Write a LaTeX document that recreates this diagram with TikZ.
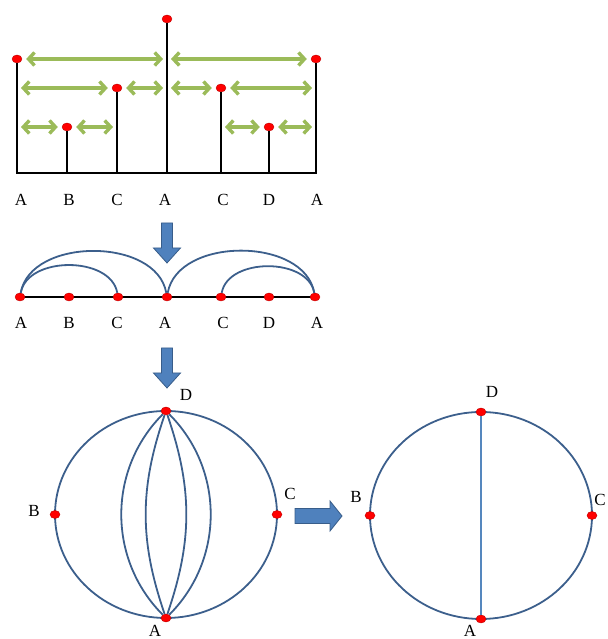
\documentclass[tikz,border=0pt]{standalone}
\usepackage{fontspec}
\setmainfont{Liberation Serif}
\usetikzlibrary{arrows.meta,shapes.geometric}
\definecolor{spanCol}{RGB}{155,187,89}
\definecolor{ringCol}{RGB}{60,95,140}
\definecolor{chordCol}{RGB}{85,135,190}
\definecolor{blkFill}{RGB}{79,129,189}
\definecolor{blkEdge}{RGB}{56,93,138}
\tikzset{
  dot/.style={ellipse, fill=red, draw=red!75!black, line width=0.4pt,
              minimum width=10pt, minimum height=8pt, inner sep=0pt},
  lbl/.style={font=\fontsize{17}{20}\selectfont, inner sep=0pt},
  stem/.style={line width=2.6pt, black},
  span/.style={{Straight Barb[length=6pt,width=13pt]}-{Straight Barb[length=6pt,width=13pt]},
               line width=3.4pt, spanCol, shorten <=4pt, shorten >=4pt},
  arcl/.style={line width=1.8pt, ringCol},
  ring/.style={ellipse, draw=ringCol, line width=1.8pt, outer sep=0pt,
               minimum width=222pt, minimum height=207pt},
  blk/.style={fill=blkFill, draw=blkEdge, line width=0.8pt},
}
% block arrow pointing down, tip top at (#1,#2)
\newcommand\blkdown[2]{%
  \filldraw[blk] (#1-5.5,#2) -- ++(11,0) -- ++(0,-25) -- ++(8,0)
    -- (#1,#2-40) -- (#1-13.5,#2-25) -- ++(8,0) -- cycle;}

\begin{document}
\begin{tikzpicture}[x=1pt,y=1pt]
  \useasboundingbox (0,0) rectangle (607,639);

  % ---- tree of the word ----
  \node[dot] (tA1) at (17,580)  {};
  \node[dot] (tB)  at (67,512)  {};
  \node[dot] (tC1) at (117,551) {};
  \node[dot] (tA2) at (167,620) {};
  \node[dot] (tC2) at (221,551) {};
  \node[dot] (tD)  at (269,512) {};
  \node[dot] (tA3) at (316,580) {};
  \coordinate (b1) at (17,466);
  \coordinate (b2) at (67,466);
  \coordinate (b3) at (117,466);
  \coordinate (b4) at (167,466);
  \coordinate (b5) at (221,466);
  \coordinate (b6) at (269,466);
  \coordinate (b7) at (316,466);
  \draw[stem] (tA1) -- (b1) -- (b7) -- (tA3);
  \draw[stem] (tB) -- (b2);
  \draw[stem] (tC1) -- (b3);
  \draw[stem] (tA2) -- (b4);
  \draw[stem] (tC2) -- (b5);
  \draw[stem] (tD) -- (b6);

  % spans between stems
  \coordinate (h1m) at (167,580);
  \coordinate (h2l) at (17,551);
  \coordinate (h2m) at (167,551);
  \coordinate (h2r) at (316,551);
  \coordinate (h3l) at (17,512);
  \coordinate (h3c) at (117,512);
  \coordinate (h3m) at (221,512);
  \coordinate (h3r) at (316,512);
  \draw[span] (tA1) -- (h1m);
  \draw[span] (h1m) -- (tA3);
  \draw[span] (h2l) -- (tC1);
  \draw[span] (tC1) -- (h2m);
  \draw[span] (h2m) -- (tC2);
  \draw[span] (tC2) -- (h2r);
  \draw[span] (h3l) -- (tB);
  \draw[span] (tB) -- (h3c);
  \draw[span] (h3m) -- (tD);
  \draw[span] (tD) -- (h3r);

  \node[lbl] (tlA1) at (21,439)  {A};
  \node[lbl] (tlB)  at (69,439)  {B};
  \node[lbl] (tlC1) at (117,439) {C};
  \node[lbl] (tlA2) at (165,439) {A};
  \node[lbl] (tlC2) at (223,439) {C};
  \node[lbl] (tlD)  at (269,439) {D};
  \node[lbl] (tlA3) at (317,439) {A};

  \blkdown{167}{416}

  % ---- the word on a line ----
  \draw[stem, line width=2.2pt] (17,342) -- (316,342);
  \node[dot] (lA1) at (20,342)  {};
  \node[dot] (lB)  at (69,342)  {};
  \node[dot] (lC1) at (118,342) {};
  \node[dot] (lA2) at (167,342) {};
  \node[dot] (lC2) at (221,342) {};
  \node[dot] (lD)  at (269,342) {};
  \node[dot] (lA3) at (315,342) {};
  \draw[arcl] (lA1) to[out=80,in=100] (lA2);
  \draw[arcl] (lA1) to[out=80,in=100] (lC1);
  \draw[arcl] (lA2) to[out=80,in=100] (lA3);
  \draw[arcl] (lC2) to[out=80,in=100] (lA3);

  \node[lbl] (llA1) at (21,316)  {A};
  \node[lbl] (llB)  at (69,316)  {B};
  \node[lbl] (llC1) at (117,316) {C};
  \node[lbl] (llA2) at (165,316) {A};
  \node[lbl] (llC2) at (223,316) {C};
  \node[lbl] (llD)  at (269,316) {D};
  \node[lbl] (llA3) at (317,316) {A};

  \blkdown{167}{291}

  % ---- left circle ----
  \node[ring] (ringL) at (166,124.5) {};
  \node[dot] (cDL) at (ringL.north) {};
  \node[dot] (cAL) at (ringL.south) {};
  \node[dot] (cBL) at (ringL.west)  {};
  \node[dot] (cCL) at (ringL.east)  {};
  \draw[arcl] (cDL) to[bend right=45] (cAL);
  \draw[arcl] (cDL) to[bend left=45]  (cAL);
  \draw[arcl] (cDL) to[bend right=19] (cAL);
  \draw[arcl] (cDL) to[bend left=19]  (cAL);
  \node[lbl] (kDL) at (186,244) {D};
  \node[lbl] (kBL) at (34,128)  {B};
  \node[lbl] (kCL) at (290,145) {C};
  \node[lbl] (kAL) at (155,8)   {A};

  % arrow to the right
  \filldraw[blk] (295,115.5) -- (330,115.5) -- (330,108) -- (342,123)
    -- (330,138) -- (330,130.5) -- (295,130.5) -- cycle;

  % ---- right circle ----
  \node[ring] (ringR) at (481,123.5) {};
  \node[dot] (cDR) at (ringR.north) {};
  \node[dot] (cAR) at (ringR.south) {};
  \node[dot] (cBR) at (ringR.west)  {};
  \node[dot] (cCR) at (ringR.east)  {};
  \draw[line width=1.8pt, chordCol] (cDR) -- (cAR);
  \node[lbl] (kDR) at (492,247) {D};
  \node[lbl] (kBR) at (356,142) {B};
  \node[lbl] (kCR) at (600,139) {C};
  \node[lbl] (kAR) at (470,8)   {A};
\end{tikzpicture}
\end{document}
